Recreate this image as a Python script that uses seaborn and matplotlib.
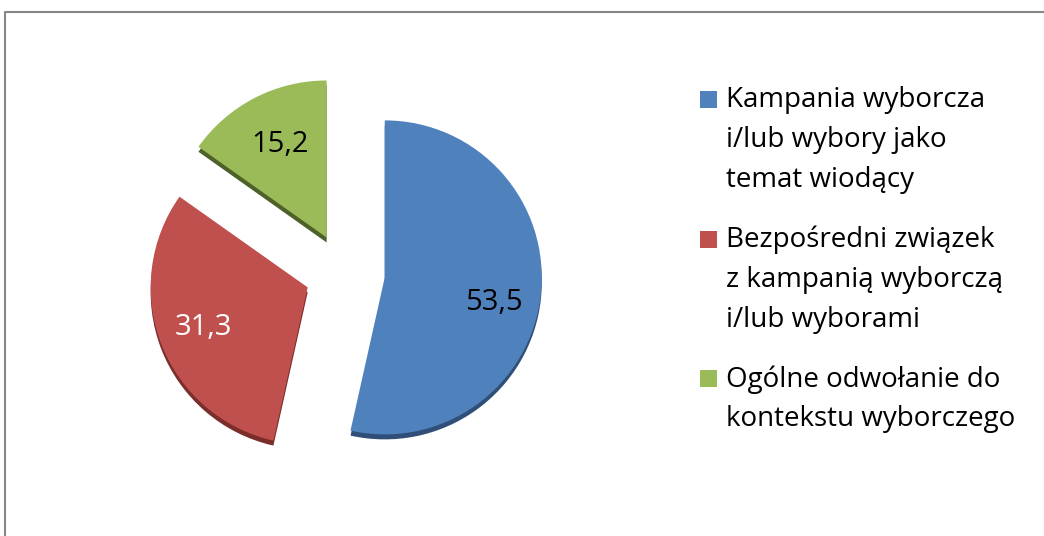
import matplotlib
matplotlib.use("Agg")
import matplotlib.pyplot as plt
from matplotlib.patches import Rectangle
from matplotlib.lines import Line2D
import seaborn as sns

sns.set_theme(style="white")
plt.rcParams["font.family"] = ["Open Sans", "DejaVu Sans"]

categories = ["Kampania wyborcza\ni/lub wybory jako\ntemat wiodący",
              "Bezpośredni związek\nz kampanią wyborczą\ni/lub wyborami",
              "Ogólne odwołanie do\nkontekstu wyborczego"]
values = [53.5, 31.3, 15.2]
colors = ["#4F81BD", "#C0504D", "#9BBB59"]
rim_colors = ["#2F4F78", "#7A2E2C", "#4E6128"]
label_colors = ["black", "white", "black"]

W, H = 1044, 536
fig = plt.figure(figsize=(W / 100, H / 100), dpi=100)
ax = fig.add_axes([0, 0, 1, 1])

cx, cy, r = 345, H - 273, 157
explode = [40] * len(values)  # pie() takes this in data units here

# darker copy underneath gives the 3D rim
ax.pie(values, colors=rim_colors, startangle=90, counterclock=False,
       explode=explode, center=(cx, cy - 5), radius=r,
       wedgeprops=dict(linewidth=0))
wedges, texts, autotexts = ax.pie(
    values, colors=colors, startangle=90, counterclock=False,
    explode=explode, center=(cx, cy), radius=r,
    autopct=lambda p: f"{p:.1f}".replace(".", ","), pctdistance=0.71,
    wedgeprops=dict(linewidth=0),
    textprops=dict(fontsize=21))
# the original is tilted, which pushes the labels a little lower
label_shift = [(-2, -13), (0, 0), (5, -6)]
for t, c, (dx, dy) in zip(autotexts, label_colors, label_shift):
    t.set_color(c)
    x, y = t.get_position()
    t.set_position((x + dx, y + dy))

# pie() resets the limits, so set them afterwards
ax.set_xlim(0, W)
ax.set_ylim(0, H)
ax.set_aspect("equal")
ax.axis("off")

# legend drawn by hand so squares sit on the first line
legend_tops = [91, 231, 370]
for lab, col, top in zip(categories, colors, legend_tops):
    fig.add_artist(Rectangle((700 / W, 1 - (top + 17) / H), 17 / W, 17 / H,
                             transform=fig.transFigure, color=col, lw=0))
    fig.text(726 / W, 1 - (top - 5) / H, lab, ha="left", va="top",
             fontsize=20, color="black", linespacing=1.56)

# chart frame (only left and top edges are visible)
fig.add_artist(Line2D([4.5 / W, 4.5 / W, 1], [0, 1 - 11.5 / H, 1 - 11.5 / H],
                      transform=fig.transFigure, color="#868686", lw=1.5))

fig.savefig("out.png", dpi=100)
